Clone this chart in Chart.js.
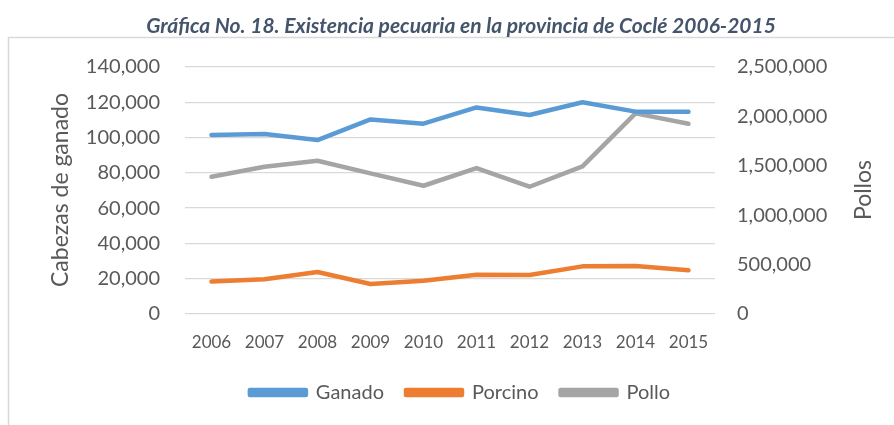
<!DOCTYPE html>
<html>
<head>
<meta charset="utf-8">
<script src="https://cdn.jsdelivr.net/npm/chart.js@4.4.1/dist/chart.umd.min.js"></script>
<style>
  html, body { margin: 0; padding: 0; background: #fff; }
  #wrap { width: 894px; height: 425px; }
</style>
</head>
<body>
<div id="wrap"><canvas id="pecuariaChart" width="894" height="425"></canvas></div>
<script>
const years = ["2006", "2007", "2008", "2009", "2010", "2011", "2012", "2013", "2014", "2015"];
const ganado = [101500, 102000, 98600, 110300, 107900, 117100, 112800, 120000, 114700, 114700];
const porcino = [18400, 19700, 23800, 17000, 18900, 22300, 22100, 27000, 27200, 24800];
const pollo = [1389000, 1490000, 1551000, 1423000, 1298000, 1477000, 1288000, 1494000, 2031000, 1926000];

const titleText = "Gráfica No. 18. Existencia pecuaria en la provincia de Coclé 2006-2015";
const leftTitle = "Cabezas de ganado";
const rightTitle = "Pollos";

const fontFamily = "Lato, 'Open Sans', sans-serif";
const textGray = "#595959";

// frame, title and axis titles drawn by hand (Excel style)
const decorations = {
  id: "decorations",
  beforeDraw(chart) {
    const c = chart.ctx;
    c.save();
    c.strokeStyle = "#d9d9d9";
    c.lineWidth = 1.5;
    c.strokeRect(8.5, 37.5, 1000, 500);
    c.restore();
  },
  afterDraw(chart) {
    const c = chart.ctx;
    c.save();
    // title, squeezed to the width of the original
    c.font = "italic bold 21px " + fontFamily;
    c.fillStyle = "#44546a";
    c.textAlign = "center";
    c.textBaseline = "middle";
    const w = c.measureText(titleText).width;
    const sx = Math.min(1, 693 / w);
    c.translate(461, 26);
    c.scale(sx, 1);
    c.fillText(titleText, 0, 0);
    c.restore();

    c.save();
    c.font = "23px " + fontFamily;
    c.fillStyle = textGray;
    c.textAlign = "center";
    c.textBaseline = "middle";
    c.translate(61, 190);
    c.rotate(-Math.PI / 2);
    c.fillText(leftTitle, 0, 0);
    c.restore();

    c.save();
    c.font = "23px " + fontFamily;
    c.fillStyle = textGray;
    c.textAlign = "center";
    c.textBaseline = "middle";
    c.translate(864, 190);
    c.rotate(-Math.PI / 2);
    c.fillText(rightTitle, 0, 0);
    c.restore();
  },
};

const fmt = (v) => Number(v).toLocaleString("en-US");

const ctx = document.getElementById("pecuariaChart").getContext("2d");
const pecuariaChart = new Chart(ctx, {
  type: "line",
  data: {
    labels: years,
    datasets: [
      {
        label: "Ganado",
        data: ganado,
        borderColor: "#5b9bd5",
        backgroundColor: "#5b9bd5",
        yAxisID: "y",
      },
      {
        label: "Porcino",
        data: porcino,
        borderColor: "#ed7d31",
        backgroundColor: "#ed7d31",
        yAxisID: "y",
      },
      {
        label: "Pollo",
        data: pollo,
        borderColor: "#a5a5a5",
        backgroundColor: "#a5a5a5",
        yAxisID: "y1",
      },
    ],
  },
  options: {
    responsive: false,
    animation: false,
    devicePixelRatio: 1,
    layout: {
      padding: { left: 75, right: 49, top: 67, bottom: 12.5 },
    },
    elements: {
      line: { borderWidth: 4.5, tension: 0, borderCapStyle: "round", borderJoinStyle: "round" },
      point: { radius: 0, hoverRadius: 0 },
    },
    scales: {
      x: {
        offset: true,
        grid: { display: false, drawTicks: false },
        border: { display: false },
        ticks: { color: textGray, font: { family: fontFamily, size: 17 }, padding: 18, maxRotation: 0 },
        afterFit(scale) { scale.height = 46.5; },
      },
      y: {
        position: "left",
        min: 0,
        max: 140000,
        grid: { color: "#d9d9d9", lineWidth: 1.3, drawTicks: false },
        border: { display: false },
        ticks: {
          stepSize: 20000,
          color: textGray,
          padding: 25,
          font: { family: fontFamily, size: 20 },
          callback: (v) => fmt(v),
        },
        afterFit(scale) { scale.width = 110; },
      },
      y1: {
        position: "right",
        min: 0,
        max: 2500000,
        grid: { display: false, drawTicks: false },
        border: { display: false },
        ticks: {
          stepSize: 500000,
          color: textGray,
          padding: 22,
          font: { family: fontFamily, size: 20 },
          callback: (v) => fmt(v),
        },
        afterFit(scale) { scale.width = 130; },
      },
    },
    plugins: {
      title: { display: false },
      tooltip: { enabled: false },
      legend: {
        position: "bottom",
        labels: {
          boxWidth: 56,
          boxHeight: 5,
          padding: 22,
          color: textGray,
          font: { family: fontFamily, size: 20 },
        },
      },
    },
  },
  plugins: [decorations],
});
</script>
</body>
</html>
